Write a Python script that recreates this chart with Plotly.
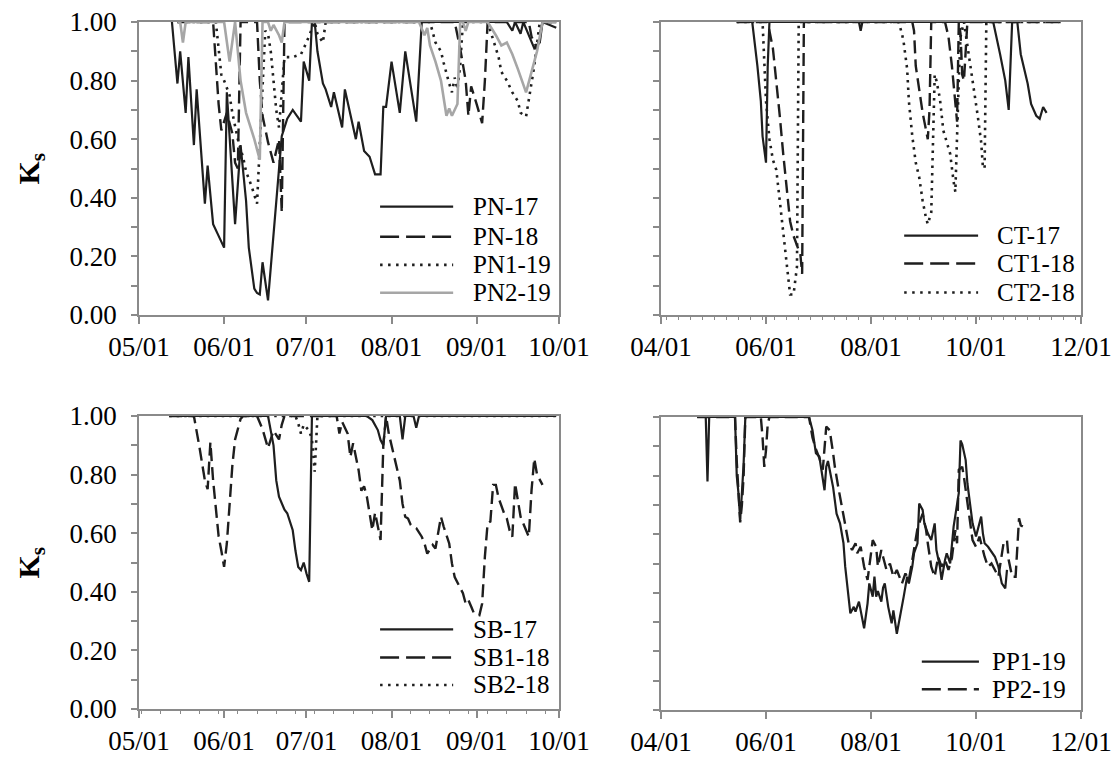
import plotly.graph_objects as go

YEAR = "2001-"          # common calendar year so every season shares one axis

# ---------------- PN site ----------------
pn17_dates = ["05-13", "05-15", "05-16", "05-18", "05-19", "05-21", "05-22", "05-25",
              "05-26", "05-28", "05-30", "06-01", "06-02", "06-05", "06-07", "06-08",
              "06-09", "06-10", "06-12", "06-13", "06-14", "06-15", "06-17", "06-22",
              "06-24", "06-26", "06-29", "06-30", "07-02", "07-03", "07-04", "07-05",
              "07-07", "07-08", "07-10", "07-11", "07-14", "07-15", "07-19", "07-20",
              "07-22", "07-24", "07-26", "07-28", "07-29", "07-30", "08-01", "08-04",
              "08-06", "08-10", "08-12", "09-12", "09-14", "09-15", "09-17", "09-18",
              "09-21", "09-22", "09-24", "09-25", "09-30"]
pn17_ks = [1.00, 0.79, 0.90, 0.69, 0.88, 0.58, 0.77, 0.38,
           0.51, 0.31, 0.27, 0.23, 0.76, 0.31, 0.58, 0.48,
           0.39, 0.23, 0.09, 0.075, 0.07, 0.18, 0.05, 0.61,
           0.67, 0.70, 0.66, 0.865, 0.80, 1.00, 1.00, 0.90,
           0.79, 0.77, 0.71, 0.76, 0.64, 0.77, 0.60, 0.66,
           0.56, 0.54, 0.48, 0.48, 0.71, 0.71, 0.865, 0.69,
           0.90, 0.66, 1.00, 1.00, 0.97, 1.00, 0.96, 1.00,
           0.93, 0.91, 0.93, 1.00, 0.98]

pn18_dates = ["05-15", "05-28", "05-30", "05-31", "06-02", "06-04", "06-05", "06-06",
              "06-07", "06-13", "06-14", "06-15", "06-17", "06-19", "06-21", "06-22",
              "06-23", "08-24", "08-26", "08-28", "08-29", "08-30", "09-01", "09-02",
              "09-03", "09-04", "09-05", "09-20", "09-21", "09-23", "09-25", "09-30"]
pn18_ks = [1.00, 1.00, 0.72, 0.63, 0.69, 0.62, 0.52, 0.50,
           1.00, 1.00, 0.80, 0.68, 0.59, 0.52, 0.60, 0.35,
           1.00, 1.00, 0.91, 0.80, 0.68, 0.78, 0.72, 0.69,
           0.655, 0.80, 1.00, 1.00, 0.95, 0.91, 1.00, 1.00]

pn1_19_dates = ["05-15", "05-29", "05-30", "05-31", "06-01", "06-03", "06-04", "06-06",
                "06-08", "06-09", "06-11", "06-12", "06-13", "06-14", "06-16", "06-17",
                "06-18", "06-19", "06-20", "06-21", "06-23", "06-26", "06-29", "07-01",
                "07-04", "07-05", "07-07", "07-08", "08-15", "08-17", "08-19", "08-20",
                "08-21", "08-22", "08-23", "08-24", "08-25", "08-26", "08-27", "09-05",
                "09-08", "09-09", "09-10", "09-12", "09-14", "09-16", "09-17", "09-19",
                "09-22", "09-23", "09-24", "09-30"]
pn1_19_ks = [1.00, 1.00, 0.91, 0.82, 0.80, 0.75, 0.69, 0.60,
             0.535, 0.49, 0.44, 0.41, 0.38, 0.58, 0.97, 0.96,
             0.90, 0.80, 0.70, 0.64, 0.88, 0.88, 0.89, 0.93,
             1.00, 0.96, 0.93, 1.00, 1.00, 0.93, 0.90, 0.86,
             0.82, 0.79, 0.76, 0.81, 0.77, 0.85, 1.00, 1.00,
             0.91, 0.88, 0.83, 0.80, 0.76, 0.73, 0.69, 0.677,
             0.85, 0.93, 1.00, 1.00]

pn2_19_dates = ["05-15", "05-16", "05-17", "05-18", "06-01", "06-03", "06-05", "06-07",
                "06-09", "06-12", "06-14", "06-15", "06-17", "06-18", "06-19", "06-21",
                "06-22", "06-23", "08-11", "08-13", "08-14", "08-15", "08-17", "08-19",
                "08-20", "08-21", "08-22", "08-23", "08-25", "08-26", "08-27", "08-28",
                "08-29", "09-05", "09-08", "09-10", "09-12", "09-14", "09-16", "09-19",
                "09-21", "09-23", "09-25", "09-30"]
pn2_19_ks = [1.00, 1.00, 0.93, 1.00, 1.00, 0.865, 1.00, 0.80,
             0.69, 0.60, 0.53, 1.00, 1.00, 0.97, 0.99, 0.955,
             0.93, 1.00, 1.00, 0.955, 0.98, 0.92, 0.865, 0.80,
             0.74, 0.68, 0.705, 0.68, 0.72, 1.00, 1.00, 0.97,
             1.00, 1.00, 0.955, 0.92, 0.93, 0.89, 0.84, 0.76,
             0.83, 0.90, 1.00, 1.00]

# ---------------- CT site ----------------
ct17_dates = ["05-15", "05-24", "05-27", "05-29", "05-30", "06-01", "06-02", "06-03",
              "07-25", "07-26", "07-27", "10-11", "10-15", "10-18", "10-20", "10-22",
              "10-25", "10-27", "10-31", "11-02", "11-05", "11-07", "11-09", "11-11"]
ct17_ks = [1.00, 1.00, 0.85, 0.73, 0.61, 0.52, 0.85, 1.00,
           1.00, 0.97, 1.00, 1.00, 0.89, 0.80, 0.70, 1.00,
           1.00, 0.89, 0.79, 0.72, 0.68, 0.67, 0.71, 0.69]

ct1_18_dates = ["05-15", "06-02", "06-05", "06-07", "06-09", "06-11", "06-13", "06-15",
                "06-17", "06-19", "06-21", "06-22", "06-23", "08-25", "08-26", "08-27",
                "08-30", "08-31", "09-01", "09-02", "09-03", "09-04", "09-05", "09-13",
                "09-15", "09-17", "09-18", "09-19", "09-20", "09-21", "09-22", "09-23",
                "09-24", "09-26", "11-20"]
ct1_18_ks = [1.00, 1.00, 0.91, 0.80, 0.68, 0.55, 0.43, 0.32,
             0.27, 0.24, 0.205, 0.14, 1.00, 1.00, 0.97, 0.85,
             0.72, 0.69, 0.66, 0.63, 0.60, 0.70, 1.00, 1.00,
             0.95, 0.85, 0.78, 0.70, 0.66, 1.00, 0.96, 0.82,
             0.80, 1.00, 1.00]

ct2_18_dates = ["05-15", "05-30", "06-01", "06-03", "06-05", "06-07", "06-09", "06-11",
                "06-13", "06-15", "06-17", "06-19", "06-20", "08-17", "08-19", "08-20",
                "08-22", "08-23", "08-25", "08-27", "08-29", "08-31", "09-02", "09-03",
                "09-05", "09-06", "09-07", "09-08", "09-10", "09-12", "09-14", "09-16",
                "09-18", "09-19", "09-21", "09-22", "09-24", "09-25", "09-28", "09-30",
                "10-02", "10-04", "10-05", "10-06", "10-07", "11-20"]
ct2_18_ks = [1.00, 1.00, 0.73, 0.60, 0.53, 0.495, 0.39, 0.28,
             0.18, 0.07, 0.07, 0.165, 1.00, 1.00, 0.96, 0.93,
             0.84, 0.73, 0.61, 0.52, 0.47, 0.39, 0.33, 0.31,
             0.35, 0.57, 0.82, 0.80, 0.74, 0.63, 0.59, 0.55,
             0.455, 0.42, 0.80, 0.95, 1.00, 0.96, 0.85, 0.76,
             0.68, 0.59, 0.505, 0.50, 1.00, 1.00]

# ---------------- SB site ----------------
sb17_dates = ["05-12", "06-17", "06-19", "06-20", "06-21", "06-23", "06-24", "06-26",
              "06-27", "06-28", "06-29", "06-30", "07-01", "07-02", "07-03", "07-23",
              "07-25", "07-27", "07-28", "07-29", "07-30", "08-04", "08-05", "08-06",
              "08-09", "08-10", "08-11", "09-30"]
sb17_ks = [1.00, 1.00, 0.90, 0.78, 0.725, 0.68, 0.668, 0.61,
           0.54, 0.485, 0.474, 0.50, 0.463, 0.434, 1.00, 1.00,
           0.986, 0.952, 0.918, 0.90, 1.00, 1.00, 0.92, 1.00,
           1.00, 0.96, 1.00, 1.00]

sb1_18_dates = ["05-12", "05-21", "05-23", "05-25", "05-26", "05-27", "05-28", "05-29",
                "05-30", "05-31", "06-01", "06-02", "06-03", "06-04", "06-05", "06-07",
                "06-08", "06-13", "06-15", "06-17", "06-18", "06-19", "06-21", "06-22",
                "06-23", "07-12", "07-13", "07-14", "07-16", "07-17", "07-18", "07-20",
                "07-21", "07-22", "07-23", "07-24", "07-25", "07-26", "07-27", "07-28",
                "07-29", "07-30", "07-31", "08-02", "08-04", "08-05", "08-06", "08-07",
                "08-08", "08-10", "08-11", "08-12", "08-13", "08-14", "08-16", "08-17",
                "08-19", "08-20", "08-22", "08-23", "08-24", "08-25", "08-27", "08-28",
                "08-29", "08-30", "08-31", "09-02", "09-03", "09-04", "09-05", "09-06",
                "09-07", "09-08", "09-09", "09-11", "09-12", "09-13", "09-14", "09-15",
                "09-16", "09-17", "09-19", "09-20", "09-21", "09-22", "09-23", "09-24",
                "09-25"]
sb1_18_ks = [1.00, 1.00, 0.895, 0.78, 0.75, 0.91, 0.78, 0.68,
             0.59, 0.54, 0.485, 0.565, 0.70, 0.83, 0.92, 0.99,
             1.00, 1.00, 0.955, 0.89, 0.92, 0.95, 0.92, 0.97,
             1.00, 1.00, 0.94, 0.98, 0.94, 0.86, 0.907, 0.815,
             0.745, 0.76, 0.725, 0.67, 0.61, 0.67, 0.62, 0.577,
             0.90, 1.00, 0.94, 0.86, 0.78, 0.70, 0.656, 0.65,
             0.628, 0.617, 0.60, 0.588, 0.565, 0.53, 0.56, 0.548,
             0.656, 0.622, 0.565, 0.497, 0.45, 0.43, 0.395, 0.36,
             0.372, 0.35, 0.327, 0.32, 0.36, 0.52, 0.634, 0.64,
             0.765, 0.765, 0.72, 0.668, 0.65, 0.61, 0.588, 0.77,
             0.72, 0.656, 0.61, 0.588, 0.747, 0.855, 0.80, 0.78,
             0.765]

sb2_18_dates = ["05-12", "06-27", "06-28", "06-29", "06-30", "07-01", "07-02", "07-03",
                "07-04", "07-05", "09-30"]
sb2_18_ks = [1.00, 1.00, 0.975, 0.94, 0.97, 0.96, 0.95, 0.92,
             0.81, 1.00, 1.00]

# ---------------- PP site ----------------
pp1_19_dates = ["04-22", "04-27", "04-28", "04-29", "05-14", "05-15", "05-16", "05-17",
                "05-18", "05-19", "05-20", "06-26", "06-28", "06-29", "06-30", "07-02",
                "07-03", "07-05", "07-06", "07-07", "07-10", "07-12", "07-14", "07-16",
                "07-17", "07-19", "07-20", "07-22", "07-23", "07-25", "07-26", "07-27",
                "07-28", "07-30", "07-31", "08-02", "08-03", "08-04", "08-05", "08-07",
                "08-08", "08-09", "08-11", "08-13", "08-14", "08-16", "08-18", "08-20",
                "08-22", "08-23", "08-25", "08-26", "08-28", "08-29", "08-31", "09-01",
                "09-03", "09-05", "09-07", "09-08", "09-10", "09-11", "09-13", "09-14",
                "09-16", "09-17", "09-18", "09-21", "09-22", "09-23", "09-25", "09-26",
                "09-28", "09-29", "10-01", "10-02", "10-04", "10-05", "10-06", "10-08",
                "10-10", "10-12", "10-14", "10-16", "10-18", "10-19"]
pp1_19_ks = [1.00, 1.00, 0.78, 1.00, 1.00, 0.80, 0.74, 0.65,
             0.74, 0.84, 1.00, 1.00, 0.955, 0.91, 0.876, 0.865,
             0.83, 0.75, 0.83, 0.85, 0.76, 0.67, 0.637, 0.57,
             0.49, 0.387, 0.33, 0.352, 0.336, 0.37, 0.34, 0.318,
             0.279, 0.364, 0.432, 0.387, 0.455, 0.387, 0.406, 0.37,
             0.417, 0.432, 0.352, 0.296, 0.34, 0.26, 0.318, 0.387,
             0.455, 0.432, 0.49, 0.535, 0.569, 0.705, 0.683, 0.637,
             0.603, 0.58, 0.637, 0.546, 0.49, 0.444, 0.512, 0.535,
             0.50, 0.569, 0.626, 0.74, 0.92, 0.907, 0.853, 0.774,
             0.694, 0.637, 0.592, 0.614, 0.66, 0.603, 0.569, 0.557,
             0.54, 0.523, 0.489, 0.432, 0.415, 0.478]

pp2_19_dates = ["04-22", "05-14", "05-15", "05-16", "05-17", "05-18", "05-19", "05-20",
                "05-29", "05-30", "05-31", "06-01", "06-02", "06-03", "06-26", "06-28",
                "06-30", "07-02", "07-04", "07-06", "07-08", "07-10", "07-11", "07-13",
                "07-15", "07-17", "07-19", "07-21", "07-23", "07-24", "07-26", "07-28",
                "07-30", "08-02", "08-04", "08-05", "08-07", "08-08", "08-10", "08-12",
                "08-14", "08-16", "08-19", "08-21", "08-23", "08-25", "08-27", "08-28",
                "08-31", "09-02", "09-03", "09-05", "09-07", "09-09", "09-11", "09-13",
                "09-15", "09-17", "09-19", "09-20", "09-21", "09-23", "09-24", "09-26",
                "09-27", "09-29", "10-01", "10-03", "10-05", "10-06", "10-08", "10-10",
                "10-12", "10-14", "10-17", "10-19", "10-20", "10-22", "10-24", "10-25",
                "10-26", "10-27", "10-30"]
pp2_19_ks = [1.00, 1.00, 0.85, 0.72, 0.64, 0.70, 0.80, 1.00,
             1.00, 0.93, 0.83, 0.887, 0.976, 1.00, 1.00, 0.93,
             0.89, 0.86, 0.82, 0.967, 0.955, 0.876, 0.83, 0.76,
             0.694, 0.626, 0.569, 0.546, 0.569, 0.535, 0.557, 0.489,
             0.444, 0.58, 0.557, 0.49, 0.546, 0.523, 0.478, 0.50,
             0.455, 0.478, 0.432, 0.466, 0.444, 0.512, 0.58, 0.62,
             0.67, 0.614, 0.569, 0.489, 0.455, 0.523, 0.489, 0.512,
             0.478, 0.52, 0.614, 0.569, 0.82, 0.83, 0.795, 0.705,
             0.66, 0.58, 0.557, 0.592, 0.546, 0.523, 0.489, 0.50,
             0.478, 0.455, 0.569, 0.58, 0.512, 0.455, 0.455, 0.569,
             0.654, 0.63, 0.62]

y_tickvals = [0.0, 0.2, 0.4, 0.6, 0.8, 1.0]

# ---------------- styling ----------------
FONT = "Liberation Serif"
AX_GREY = "#8a8a8a"
INK = "#1e1e1e"
LIGHT = "#a6a6a6"

STYLES = {
    "solid": dict(color=INK, width=2.2, dash="solid"),
    "dash": dict(color=INK, width=2.4, dash="13px,6px"),
    "dot": dict(color=INK, width=2.6, dash="2.5px,5px"),
    "grey": dict(color=LIGHT, width=2.6, dash="solid"),
}
LEGEND_DASH = {"solid": "solid", "dash": "19px,7px", "dot": "2.5px,5.5px", "grey": "solid"}

panels = [
    # (xaxis id, yaxis id, x range, month step, series, legend geometry)
    ("x", "y", ["2001-05-01", "2001-10-01"], "M1",
     [("PN-17", pn17_dates, pn17_ks, "solid"),
      ("PN-18", pn18_dates, pn18_ks, "dash"),
      ("PN1-19", pn1_19_dates, pn1_19_ks, "dot"),
      ("PN2-19", pn2_19_dates, pn2_19_ks, "grey")],
     (0.574, 0.748, 0.790, [0.370, 0.267, 0.171, 0.076])),
    ("x2", "y2", ["2001-04-01", "2001-12-01"], "M2",
     [("CT-17", ct17_dates, ct17_ks, "solid"),
      ("CT1-18", ct1_18_dates, ct1_18_ks, "dash"),
      ("CT2-18", ct2_18_dates, ct2_18_ks, "dot")],
     (0.579, 0.755, 0.795, [0.271, 0.176, 0.077])),
    ("x3", "y3", ["2001-05-01", "2001-10-01"], "M1",
     [("SB-17", sb17_dates, sb17_ks, "solid"),
      ("SB1-18", sb1_18_dates, sb1_18_ks, "dash"),
      ("SB2-18", sb2_18_dates, sb2_18_ks, "dot")],
     (0.574, 0.748, 0.790, [0.272, 0.176, 0.082])),
    ("x4", "y4", ["2001-04-01", "2001-12-01"], "M2",
     [("PP1-19", pp1_19_dates, pp1_19_ks, "solid"),
      ("PP2-19", pp2_19_dates, pp2_19_ks, "dash")],
     (0.621, 0.757, 0.783, [0.165, 0.071])),
]

W, H = 1115, 762
# plot-area boxes in pixels: (left, right, top, bottom)
boxes = [(139, 559, 22, 315), (661, 1081, 22, 315),
         (139, 559, 416, 709), (661, 1081, 417, 710)]

fig = go.Figure()
shapes, annotations = [], []
layout = dict(width=W, height=H, margin=dict(l=0, r=0, t=0, b=0, autoexpand=False),
              paper_bgcolor="white", plot_bgcolor="white", showlegend=False,
              font=dict(family=FONT, color="black"))

for i, (xa, ya, xr, step, series, leg) in enumerate(panels):
    l, r, t, b = boxes[i]
    xname = "xaxis" if xa == "x" else "xaxis" + xa[1:]
    yname = "yaxis" if ya == "y" else "yaxis" + ya[1:]
    left_col = i in (0, 2)
    xaxis = dict(domain=[l / W, r / W], anchor=ya, type="date", range=xr,
                 tick0="2001-04-01", dtick=step, tickformat="%m/%d",
                 ticks="outside", ticklen=7, tickwidth=1.5, tickcolor=AX_GREY,
                 showline=True, linecolor=AX_GREY, linewidth=1.5, mirror=True,
                 showgrid=False, zeroline=False, automargin=False,
                 tickfont=dict(family=FONT, size=27, color="black"))
    if i in (1, 2):
        xaxis["minor"] = dict(dtick=7 * 86400000, tick0="2001-04-04", ticks="outside",
                              ticklen=3, tickwidth=1, tickcolor=AX_GREY)
    yaxis = dict(domain=[1 - b / H, 1 - t / H], anchor=xa, range=[0, 1],
                 tickvals=y_tickvals, tickformat=".2f",
                 ticks="outside", ticklen=6, tickwidth=1.5, tickcolor=AX_GREY,
                 minor=dict(dtick=0.1, ticks="outside", ticklen=6, tickwidth=1.5,
                            tickcolor=AX_GREY),
                 showline=True, linecolor=AX_GREY, linewidth=1.5, mirror=True,
                 showgrid=False, zeroline=False, showticklabels=left_col,
                 ticklabelstandoff=9, automargin=False,
                 tickfont=dict(family=FONT, size=27, color="black"))
    layout[xname] = xaxis
    layout[yname] = yaxis

    for name, dates, ks, sty in series:
        st = STYLES[sty]
        fig.add_trace(go.Scatter(
            x=[YEAR + d for d in dates], y=ks, mode="lines", name=name,
            xaxis=xa, yaxis=ya,
            line=dict(color=st["color"], width=st["width"], dash=st["dash"]),
        ))

    # legend drawn inside the plot area
    x0, x1, xt, rows = leg
    xref = xa + " domain"
    yref = ya + " domain"
    for (name, _, _, sty), yy in zip(series, rows):
        st = STYLES[sty]
        shapes.append(dict(type="line", xref=xref, yref=yref, x0=x0, x1=x1, y0=yy, y1=yy,
                           line=dict(color=st["color"], width=st["width"],
                                     dash=LEGEND_DASH[sty])))
        annotations.append(dict(xref=xref, yref=yref, x=xt, y=yy, text=name,
                                showarrow=False, xanchor="left", yanchor="middle",
                                font=dict(family=FONT, size=25, color="black")))

# y-axis titles for the left column
for (l, r, t, b) in (boxes[0], boxes[2]):
    annotations.append(dict(xref="paper", yref="paper", x=30 / W, y=1 - (t + b) / 2 / H,
                            text="<b>K<sub>s</sub></b>", textangle=-90, showarrow=False,
                            xanchor="center", yanchor="middle",
                            font=dict(family=FONT, size=30, color="black")))

layout["shapes"] = shapes
layout["annotations"] = annotations
fig.update_layout(**layout)
fig.write_html("out.html")
